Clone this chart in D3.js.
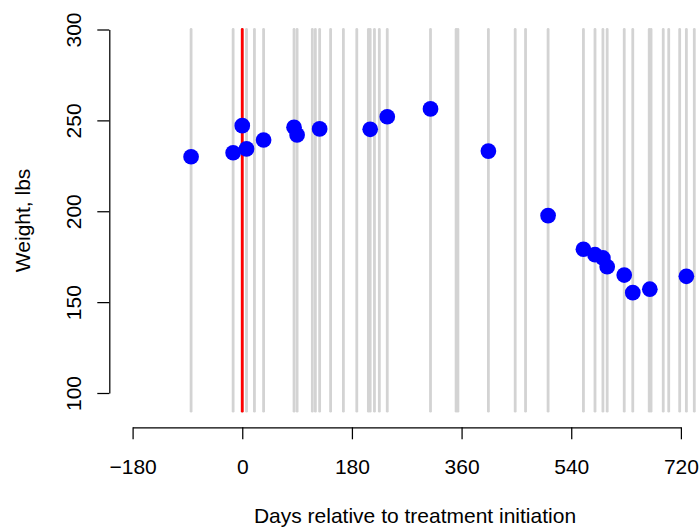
<!DOCTYPE html>
<html>
<head>
<meta charset="utf-8">
<script src="https://cdn.jsdelivr.net/npm/d3@7"></script>
<style>
  html, body { margin: 0; padding: 0; background: #fff; }
  svg { display: block; }
  text { font-family: "Liberation Sans", Arial, Helvetica, sans-serif; }
</style>
</head>
<body>
<svg id="chart" width="700" height="528"></svg>
<script>
// Visit days (gray vertical lines)
const visitDays = [-84, -15, 0, 7, 20, 35, 85, 90, 115, 120, 127, 145, 166, 188, 207, 210, 217, 225, 238,
  309, 351, 354, 404, 448, 465, 502, 560, 579, 592, 599, 627, 641, 668, 671, 691, 700, 718, 729, 742];
// Weight measurements
const weightDays = [-84, -15, 0, 7, 35, 85, 90, 127, 210, 238, 309, 404, 502, 560, 579, 592, 599, 627, 641, 669, 729];
const weights = [230.0, 232.2, 247.1, 234.3, 239.2, 246.2, 242.0, 245.3, 245.1, 252.0, 256.3, 233.1,
  197.6, 179.1, 176.1, 174.3, 169.5, 164.9, 155.2, 157.1, 164.2];
const treatmentDay = 0;
const xTicks = [-180, 0, 180, 360, 540, 720];
const yTicks = [100, 150, 200, 250, 300];
const lineRange = [90, 300];
const xLabel = "Days relative to treatment initiation";
const yLabel = "Weight, lbs";

const svg = d3.select("#chart");
const fs = 21;

const x = d3.scaleLinear().domain([-180, 720]).range([132.6, 680.9]);
const y = d3.scaleLinear().domain([100, 300]).range([393, 29.5]);

const axisY0 = 427.3;  // x-axis line position
const axisX0 = 109.3;  // y-axis line position

// gray visit lines
svg.append("g").selectAll("line").data(visitDays).join("line")
  .attr("x1", d => x(d)).attr("x2", d => x(d))
  .attr("y1", y(lineRange[0])).attr("y2", y(lineRange[1]))
  .attr("stroke", "#d3d3d3").attr("stroke-width", 2.8).attr("stroke-linecap", "round");

// red treatment line
svg.append("line")
  .attr("x1", x(treatmentDay)).attr("x2", x(treatmentDay))
  .attr("y1", y(lineRange[0])).attr("y2", y(lineRange[1]))
  .attr("stroke", "#ff0000").attr("stroke-width", 2.8).attr("stroke-linecap", "round");

// points
svg.append("g").selectAll("circle").data(weightDays.map((d, i) => [d, weights[i]])).join("circle")
  .attr("cx", d => x(d[0])).attr("cy", d => y(d[1])).attr("r", 7.85)
  .attr("fill", "#0000ff");

// x axis
const gx = svg.append("g").attr("transform", `translate(0,${axisY0})`)
  .call(d3.axisBottom(x).tickValues(xTicks).tickSize(12).tickSizeOuter(0)
    .tickFormat(d => d < 0 ? "\u2212" + Math.abs(d) : String(d)));
gx.select(".domain").attr("stroke", "#000").attr("stroke-width", 1.25);
gx.selectAll(".tick line").attr("stroke", "#000").attr("stroke-width", 1.25);
gx.selectAll(".tick text").attr("y", 46.7).attr("dy", 0)
  .attr("font-size", fs).attr("fill", "#000")
  .attr("font-family", "'Liberation Sans', Arial, Helvetica, sans-serif");

// y axis
const gy = svg.append("g").attr("transform", `translate(${axisX0},0)`)
  .call(d3.axisLeft(y).tickValues(yTicks).tickSize(12).tickSizeOuter(0));
gy.select(".domain").attr("stroke", "#000").attr("stroke-width", 1.25);
gy.selectAll(".tick line").attr("stroke", "#000").attr("stroke-width", 1.25);
gy.selectAll(".tick text")
  .attr("x", 0).attr("y", 0).attr("dy", 0)
  .attr("transform", "translate(-28.8,0) rotate(-90)")
  .attr("text-anchor", "middle")
  .attr("font-size", fs).attr("fill", "#000")
  .attr("font-family", "'Liberation Sans', Arial, Helvetica, sans-serif");

// axis titles
svg.append("text").attr("x", 415).attr("y", 523.3)
  .attr("text-anchor", "middle").attr("font-size", fs).text(xLabel);
svg.append("text")
  .attr("transform", `translate(29.5,220.4) rotate(-90)`)
  .attr("text-anchor", "middle").attr("font-size", fs).text(yLabel);
</script>
</body>
</html>
